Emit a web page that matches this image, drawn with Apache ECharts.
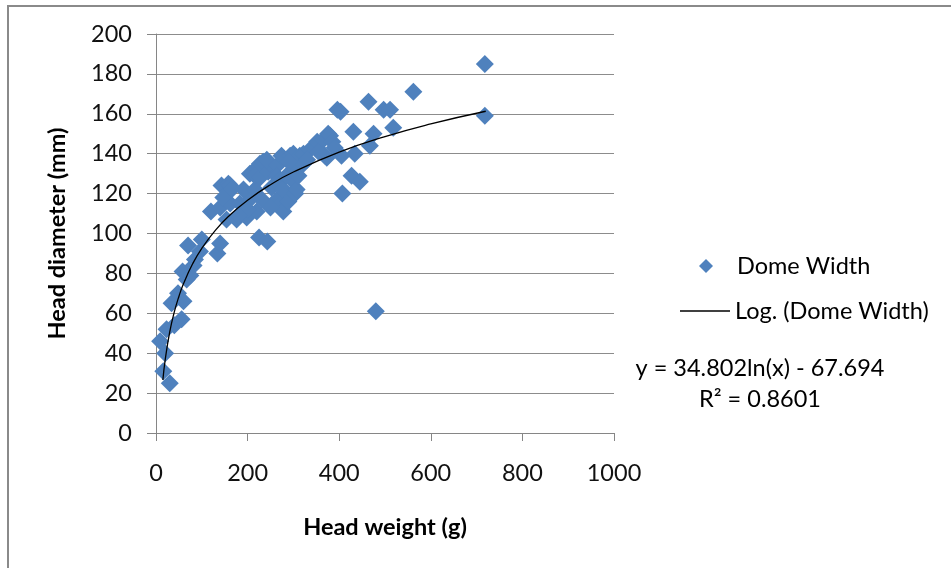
<!DOCTYPE html>
<html>
<head>
<meta charset="utf-8">
<script src="https://cdn.jsdelivr.net/npm/echarts@6/dist/echarts.min.js"></script>
<style>
html,body{margin:0;padding:0;background:#fff;}
#chart{width:951px;height:568px;}
</style>
</head>
<body>
<div id="chart"></div>
<script>
// Head weight (g)
var headWeight = [
  16,30,20,9,23,40,56,60,34,48,67,58,75,82,85,96,70,100,134,140,
  120,140,154,162,176,183,198,205,220,143,158,162,165,147,191,216,205,220,216,227,
  227,234,231,245,249,242,264,264,263,252,271,274,274,278,278,285,289,293,296,300,
  300,304,307,311,314,322,322,336,351,352,365,369,373,376,380,385,390,225,243,396,
  403,405,407,427,431,434,445,464,467,475,480,497,511,518,562,718,718,355,330,290,
  250,200,180
];
// Head diameter (mm)
var headDiameter = [
  31,25,40,46,52,54,57,66,65,70,77,81,79,84,87,91,94,97,90,95,
  111,113,107,115,107,115,108,117,111,124,125,124,122,118,122,122,130,133,129,128,
  135,136,117,131,135,137,134,117,129,123,127,139,115,111,122,129,116,139,127,134,
  140,120,122,129,139,135,140,142,143,146,147,139,138,150,149,146,143,98,96,162,
  161,139,120,129,151,140,126,166,144,150,61,162,162,153,171,185,159,141,137,136,
  113,112,109
];
var seriesName = 'Dome Width';
var trendName = 'Log. (Dome Width)';
// Excel logarithmic trendline coefficients shown in the chart
var trendA = 34.802;
var trendB = -67.694;
var trendR2 = '0.8601';
var trendX = [15,20,30,40,50,60,80,100,130,160,200,250,300,400,500,600,720];
var xTicks = [0,200,400,600,800,1000];
var yTicks = [0,20,40,60,80,100,120,140,160,180,200];

var points = headWeight.map(function(w,i){return [w, headDiameter[i]];});
var trendPts = trendX.map(function(x){return [x, trendA*Math.log(x)+trendB];});

var FONT = 'Lato';
var FS = 23.5;
var chart = echarts.init(document.getElementById('chart'), null, {renderer:'canvas'});
chart.setOption({
  backgroundColor:'#ffffff',
  animation:false,
  grid:{left:156, top:34, width:458, height:399, containLabel:false},
  xAxis:{
    type:'value', min:xTicks[0], max:xTicks[xTicks.length-1], interval:200,
    name:'Head weight (g)', nameLocation:'middle', nameGap:82,
    nameTextStyle:{fontFamily:FONT, fontSize:FS, fontWeight:'bold', color:'#000'},
    axisLine:{show:true, lineStyle:{color:'#868686', width:1}},
    axisTick:{show:true, inside:false, length:8, lineStyle:{color:'#868686'}},
    axisLabel:{margin:28, fontFamily:FONT, fontSize:FS, color:'#111',
               formatter:function(v){return String(v);}},
    splitLine:{show:false}
  },
  yAxis:{
    type:'value', min:yTicks[0], max:yTicks[yTicks.length-1], interval:20,
    name:'Head diameter (mm)', nameLocation:'middle', nameGap:87,
    nameTextStyle:{fontFamily:FONT, fontSize:FS, fontWeight:'bold', color:'#000'},
    axisLine:{show:true, lineStyle:{color:'#868686', width:1}},
    axisTick:{show:true, inside:false, length:9, lineStyle:{color:'#868686'}},
    axisLabel:{margin:24, fontFamily:FONT, fontSize:FS, color:'#111',
               formatter:function(v){return String(v);}},
    splitLine:{show:true, lineStyle:{color:'#8c8c8c', width:1}}
  },
  legend:[
    {
      data:[{name:seriesName, icon:'diamond'}],
      left:694, top:249, orient:'vertical', itemWidth:14, itemHeight:14,
      textStyle:{fontFamily:FONT, fontSize:FS, color:'#000', padding:[0,0,0,19]}
    },
    {
      data:[{name:trendName, icon:'rect'}],
      left:675, top:294, orient:'vertical', itemWidth:50, itemHeight:1.5,
      itemStyle:{color:'#000'},
      textStyle:{fontFamily:FONT, fontSize:FS, color:'#000'}
    }
  ],
  graphic:[
    {type:'rect', silent:true, shape:{x:8, y:6, width:1000, height:700},
     style:{fill:'none', stroke:'#8a8a8a', lineWidth:2}},
    {type:'text', silent:true, x:760, y:368,
     style:{text:'y = '+trendA.toFixed(3)+'ln(x) - '+Math.abs(trendB).toFixed(3),
            align:'center', verticalAlign:'middle',
            font:FS+'px '+FONT, fill:'#000'}},
    {type:'text', silent:true, x:760, y:399,
     style:{text:'R\u00B2 = '+trendR2, align:'center', verticalAlign:'middle',
            font:FS+'px '+FONT, fill:'#000'}}
  ],
  series:[
    {
      name:seriesName, type:'scatter', data:points,
      symbol:'diamond', symbolSize:18,
      itemStyle:{color:'#4f81bd', opacity:1}
    },
    {
      name:trendName, type:'line', data:trendPts, smooth:true,
      symbol:'none', showSymbol:false,
      lineStyle:{color:'#000', width:1.3},
      itemStyle:{color:'#000'}
    }
  ]
});
</script>
</body>
</html>
